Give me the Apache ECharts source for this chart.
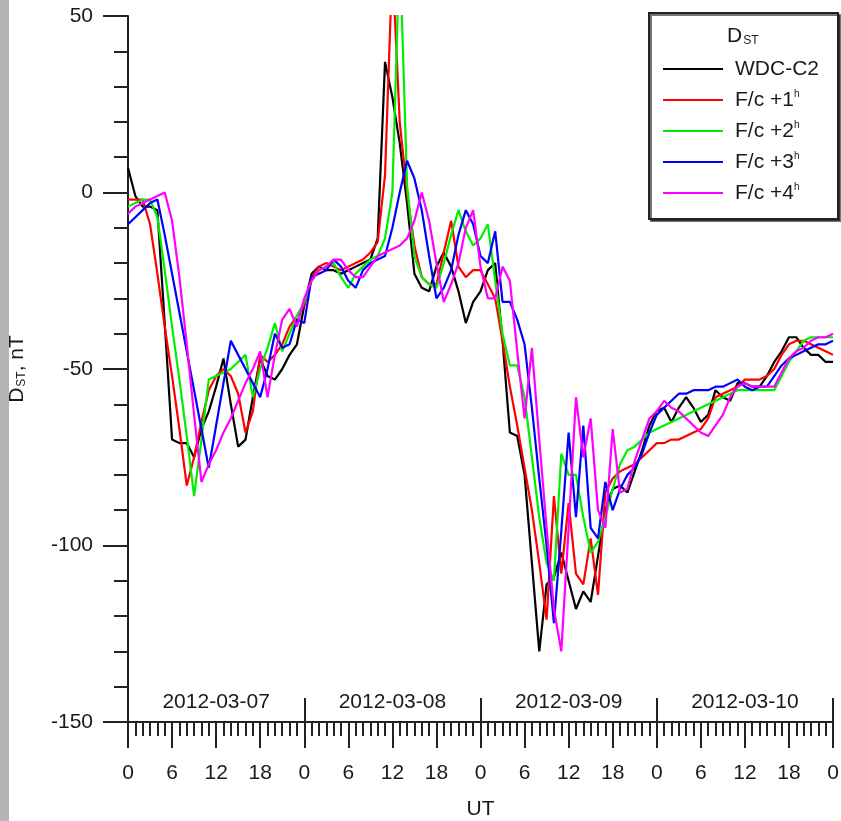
<!DOCTYPE html>
<html><head><meta charset="utf-8">
<script src="https://cdn.jsdelivr.net/npm/echarts@6/dist/echarts.min.js"></script>
<style>html,body{margin:0;padding:0;background:#fff}#c{width:841px;height:821px}</style>
</head><body><div id="c"></div>
<script>
// hours since 2012-03-07 00 UT
const HOURS = Array.from({length: 97}, (_, i) => i);
const X_TICK_LABELS = ['0', '6', '12', '18'];
const DAY_LABELS = ['2012-03-07', '2012-03-08', '2012-03-09', '2012-03-10'];
const SERIES_NAMES = ['WDC-C2', 'F/c +1h', 'F/c +2h', 'F/c +3h', 'F/c +4h'];
const COLORS = ['#000000', '#ff0000', '#00ee00', '#0000ff', '#ff00ff'];

const WDC = [7,-1,-4,-4,-5,-37,-70,-71,-71,-75,-67,-62,-55,-47,-60,-72,-70,-58,-47,-52,-53,-50,-46,-43,
  -32,-23,-21,-22,-22,-23,-22,-21,-20,-19,-13,37,27,14,-3,-23,-27,-28,-21,-17,-21,-28,-37,-31,
  -28,-22,-20,-42,-68,-69,-80,-105,-130,-111,-109,-102,-110,-118,-113,-116,-103,-90,-84,-83,-85,-79,-73,-66,
  -62,-61,-65,-61,-58,-61,-65,-63,-56,-58,-59,-54,-54,-55,-55,-52,-48,-45,-41,-41,-44,-46,-46,-48,-48];
const FC1 = [-2,-2,-2,-9,-23,-38,-52,-67,-83,-75,-65,-56,-52,-50,-52,-57,-68,-62,-46,-48,-46,-43,-38,-35,
  -32,-24,-21,-20,-21,-22,-21,-20,-19,-17,-14,5,65,20,0,-15,-24,-26,-26,-17,-8,-21,-24,-22,
  -22,-26,-30,-42,-55,-66,-78,-90,-105,-121,-86,-108,-88,-108,-111,-98,-114,-85,-81,-79,-78,-77,-75,-73,
  -71,-71,-70,-70,-69,-68,-67,-64,-58,-57,-56,-55,-53,-53,-53,-52,-50,-46,-43,-42,-42,-43,-44,-45,-46];
const FC2 = [-4,-3,-2,-2,-7,-22,-38,-53,-69,-86,-70,-53,-52,-51,-50,-48,-46,-58,-50,-44,-37,-45,-40,-35,
  -31,-25,-22,-21,-20,-24,-27,-23,-21,-19,-18,-13,0,70,2,-18,-24,-26,-27,-20,-12,-5,-11,-15,
  -13,-9,-25,-40,-49,-49,-58,-75,-92,-105,-110,-74,-80,-80,-92,-102,-99,-92,-84,-77,-73,-72,-70,-68,
  -67,-66,-65,-64,-63,-62,-61,-60,-59,-58,-57,-56,-56,-56,-56,-56,-56,-52,-48,-45,-42,-41,-41,-41,-41];
const FC3 = [-9,-7,-5,-3,-2,-12,-23,-34,-45,-56,-67,-78,-66,-54,-42,-46,-50,-54,-58,-50,-40,-44,-43,-36,
  -37,-24,-23,-22,-19,-21,-25,-27,-22,-20,-19,-18,-10,0,9,4,-5,-18,-30,-27,-22,-12,-5,-9,
  -18,-20,-11,-31,-31,-36,-43,-61,-81,-100,-122,-96,-68,-92,-66,-95,-98,-82,-90,-84,-80,-78,-74,-68,
  -63,-61,-59,-57,-57,-56,-56,-56,-55,-55,-54,-53,-55,-56,-55,-55,-52,-49,-47,-46,-45,-44,-43,-43,-42];
const FC4 = [-6,-4,-3,-2,-1,0,-8,-24,-43,-63,-82,-77,-73,-68,-64,-59,-54,-50,-45,-58,-46,-36,-33,-38,
  -30,-25,-22,-21,-19,-19,-22,-24,-24,-21,-18,-17,-16,-15,-13,-8,0,-8,-20,-31,-26,-20,-10,-5,
  -21,-30,-30,-21,-25,-45,-64,-44,-70,-95,-118,-130,-95,-58,-75,-64,-90,-95,-67,-85,-84,-76,-70,-64,
  -62,-59,-61,-62,-64,-66,-68,-69,-66,-63,-58,-55,-54,-55,-55,-55,-55,-51,-47,-45,-44,-42,-41,-41,-40];
const VALUES = [WDC, FC1, FC2, FC3, FC4];

const FONT = "'Liberation Sans', Arial, sans-serif";
const TXT = '#1a1a1a';
const chart = echarts.init(document.getElementById('c'), null, {renderer: 'canvas'});

const axisCommon = {
  type: 'value', min: 0, max: 96, position: 'bottom', splitLine: {show: false}
};

chart.setOption({
  animation: false,
  backgroundColor: '#fff',
  textStyle: {fontFamily: FONT},
  grid: {left: 128, right: 8, top: 16, bottom: 99, containLabel: false, outerBoundsMode: 'none'},
  title: {
    text: 'D{s|ST}', left: 727, top: 25, padding: 0,
    textStyle: {fontSize: 21, fontWeight: 'normal', color: TXT, fontFamily: FONT,
      rich: {s: {fontSize: 12, color: TXT, fontFamily: FONT, verticalAlign: 'bottom', padding: [10, 0, 0, 1]}}}
  },
  legend: {
    data: SERIES_NAMES, orient: 'vertical', left: 649, top: 13,
    padding: [45, 19, 15, 14], itemWidth: 60, itemHeight: 2, itemGap: 9, icon: 'rect',
    borderColor: '#222', borderWidth: 2, backgroundColor: '#fff',
    shadowColor: 'rgba(0,0,0,0.55)', shadowOffsetX: 2, shadowOffsetY: 2, shadowBlur: 0,
    formatter: n => n.endsWith('h') ? n.slice(0, -1) + '{sup|h}' : n,
    textStyle: {fontSize: 21, color: TXT, fontFamily: FONT, lineHeight: 22, padding: [0, 0, 0, 7],
      rich: {sup: {fontSize: 10, color: TXT, fontFamily: FONT, verticalAlign: 'top', lineHeight: 10}}}
  },
  xAxis: [
    Object.assign({}, axisCommon, {
      interval: 6,
      axisLine: {onZero: false, lineStyle: {color: '#222', width: 2}},
      axisTick: {length: 26, lineStyle: {color: '#222', width: 2}},
      minorTick: {show: true, splitNumber: 6, length: 14, lineStyle: {color: '#222', width: 2}},
      axisLabel: {margin: 41, fontSize: 21, color: TXT, fontFamily: FONT,
        formatter: v => X_TICK_LABELS[(v % 24) / 6]},
      name: 'UT', nameLocation: 'middle', nameGap: 77,
      nameTextStyle: {fontSize: 21, color: TXT, fontFamily: FONT}
    }),
    Object.assign({}, axisCommon, {
      interval: 24,
      axisLine: {show: false, onZero: false},
      axisTick: {inside: true, length: 24, lineStyle: {color: '#222', width: 2}},
      axisLabel: {show: false}
    }),
    Object.assign({}, axisCommon, {
      interval: 12,
      axisLine: {show: false, onZero: false},
      axisTick: {show: false},
      axisLabel: {inside: true, margin: 9, fontSize: 21, color: TXT, fontFamily: FONT,
        showMinLabel: false, showMaxLabel: false,
        formatter: v => (v % 24 === 12) ? DAY_LABELS[(v - 12) / 24] : ''}
    })
  ],
  yAxis: {
    type: 'value', min: -150, max: 50, interval: 50,
    axisLine: {show: true, onZero: false, lineStyle: {color: '#222', width: 2}},
    axisTick: {show: true, length: 25, lineStyle: {color: '#222', width: 2}},
    minorTick: {show: true, splitNumber: 5, length: 14, lineStyle: {color: '#222', width: 2}},
    axisLabel: {margin: 35, fontSize: 21, color: TXT, fontFamily: FONT},
    splitLine: {show: false},
    name: 'D{s|ST}, nT', nameLocation: 'middle', nameRotate: 90, nameGap: 100,
    nameTextStyle: {fontSize: 21, color: TXT, fontFamily: FONT,
      rich: {s: {fontSize: 12, color: TXT, fontFamily: FONT, verticalAlign: 'bottom', padding: [10, 0, 0, 1]}}}
  },
  series: SERIES_NAMES.map((name, k) => ({
    name, type: 'line', xAxisIndex: 0, symbol: 'none', clip: true,
    color: COLORS[k],
    lineStyle: {color: COLORS[k], width: 2.2},
    data: HOURS.map((h, i) => [h, VALUES[k][i]]),
    z: 2 + k
  })),
  graphic: [
    {type: 'rect', left: 0, top: 0, shape: {width: 9, height: 821}, style: {fill: '#b5b5b5'}, z: 100}
  ]
});
</script>
</body></html>
